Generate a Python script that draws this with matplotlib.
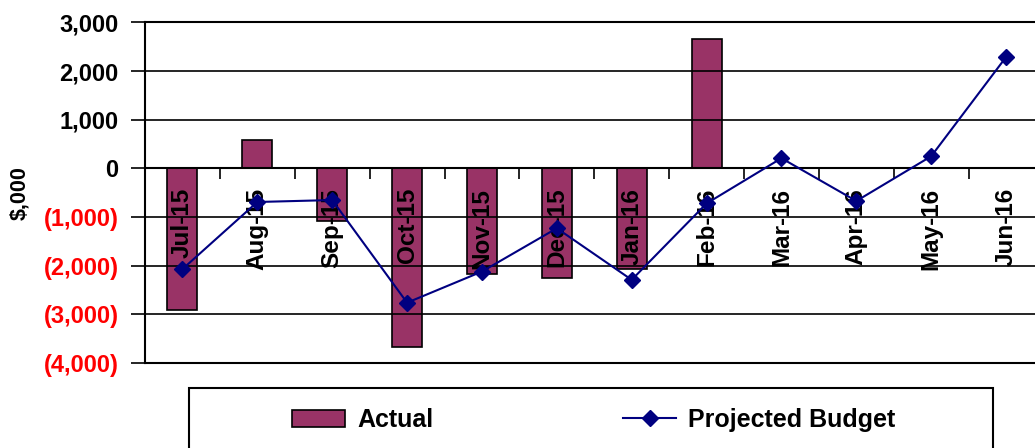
import numpy as np
import matplotlib
matplotlib.use("Agg")
import matplotlib.pyplot as plt
from matplotlib.patches import Rectangle
from matplotlib.ticker import FixedLocator

# datos ($,000)
meses = ["Jul-15", "Aug-15", "Sep-15", "Oct-15", "Nov-15", "Dec-15",
         "Jan-16", "Feb-16", "Mar-16", "Apr-16", "May-16", "Jun-16"]
actual = [-2920, 580, -1080, -3680, -2170, -2250, -2070, 2670,
          np.nan, np.nan, np.nan, np.nan]
presupuesto = [-2070, -690, -650, -2760, -2120, -1230, -2290, -720,
               210, -670, 250, 2290]
y_ticks = [-4000, -3000, -2000, -1000, 0, 1000, 2000, 3000]

plt.rcParams['font.family'] = ['Liberation Sans', 'DejaVu Sans']
plt.rcParams['font.weight'] = 'bold'

W, H = 1035, 448
fig = plt.figure(figsize=(W / 100, H / 100), dpi=100)
ax = fig.add_axes([145 / W, 1 - 363 / H, (1043.5 - 145) / W, (363 - 22.5) / H])

x = np.arange(len(meses))
barras = ax.bar(x, actual, width=0.4, color='#993366', edgecolor='black',
                linewidth=1.2, zorder=1, label='Actual')
linea, = ax.plot(x, presupuesto, color='#000080', lw=1.5, marker='D',
                 markersize=8.5, zorder=3, label='Projected Budget')

ax.set_xlim(-0.5, len(meses) - 0.5)
ax.set_ylim(-4000, 3000)

# eje y
ax.set_yticks(y_ticks)
etiquetas = []
for v in y_ticks:
    if v < 0:
        etiquetas.append("({:,})".format(-v))
    else:
        etiquetas.append("{:,}".format(v))
ax.set_yticklabels(etiquetas, fontsize=17, fontweight='bold')
for t, v in zip(ax.get_yticklabels(), y_ticks):
    t.set_color('red' if v < 0 else 'black')
ax.tick_params(axis='y', length=10, width=1.2, pad=9, direction='out')
fig.text(20 / W, 1 - 193 / H, "$,000", rotation=90, fontsize=15.5,
         fontweight='bold', ha='center', va='center')

# eje x sobre la linea de cero
ax.spines['bottom'].set_position(('data', 0))
ax.set_xticks(x)
ax.set_xticklabels(meses, rotation=90, fontsize=17.5, fontweight='bold', va='top')
ax.xaxis.set_minor_locator(FixedLocator(np.arange(-0.5, len(meses), 1.0)))
ax.tick_params(axis='x', which='major', length=0, pad=14)
ax.tick_params(axis='x', which='minor', length=8, width=1.2, direction='out')

for s in ax.spines.values():
    s.set_linewidth(1.5)

ax.grid(axis='y', color='black', lw=1.2)
ax.axhline(-4000, color='black', lw=1.5, clip_on=False)
ax.set_axisbelow(False)

# leyenda
fig.patches.append(Rectangle((189 / W, 1 - 452 / H), (993 - 189) / W, 64 / H,
                             transform=fig.transFigure, facecolor='white',
                             edgecolor='black', lw=1.5))
fig.legend(handles=[barras, linea], loc='center',
           bbox_to_anchor=(594 / W, 1 - 420 / H), ncol=2, frameon=False,
           prop={'size': 18, 'weight': 'bold'}, handlelength=2.1,
           handletextpad=0.5, columnspacing=7.6)

fig.savefig("out.png", dpi=100)
